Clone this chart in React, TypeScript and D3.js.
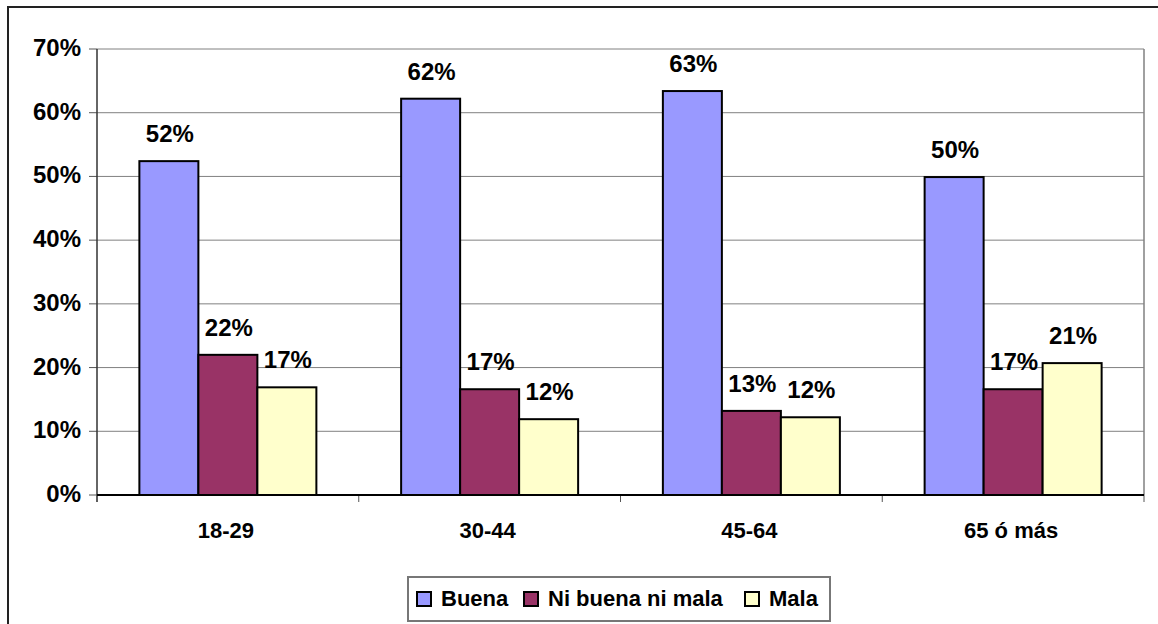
import React from "react";
import * as d3 from "d3";

const categories = ["18-29", "30-44", "45-64", "65 ó más"];
const seriesNames = ["Buena", "Ni buena ni mala", "Mala"];
const buena = [52.4, 62.2, 63.4, 49.9];
const niBuena = [22.0, 16.6, 13.2, 16.6];
const mala = [16.9, 11.9, 12.2, 20.7];
const labelsBuena = ["52%", "62%", "63%", "50%"];
const labelsNi = ["22%", "17%", "13%", "17%"];
const labelsMala = ["17%", "12%", "12%", "21%"];
const yTicks = [0, 10, 20, 30, 40, 50, 60, 70];
const colors = ["#9999FF", "#993366", "#FFFFCC"];

const W = 1158;
const H = 624;
const left = 97;
const right = 1144;
const top = 49;
const bottom = 495;
const font = "'Liberation Sans', Arial, sans-serif";

export default function App() {
  const y = d3.scaleLinear().domain([0, 70]).range([bottom, top]);
  const x0 = d3.scaleBand().domain(categories).range([left, right]).paddingInner(0).paddingOuter(0);
  const groupW = 177;
  const x1 = d3
    .scaleBand()
    .domain(seriesNames)
    .range([(x0.bandwidth() - groupW) / 2, (x0.bandwidth() + groupW) / 2]);
  const data = [buena, niBuena, mala];
  const labels = [labelsBuena, labelsNi, labelsMala];

  const legendItems = [
    { name: "Buena", sx: 417, tx: 441 },
    { name: "Ni buena ni mala", sx: 524, tx: 548 },
    { name: "Mala", sx: 745, tx: 769 },
  ];

  return (
    <svg width={W} height={H} style={{ position: "absolute", left: 0, top: 0 }} fontFamily={font}>
      <rect x={0} y={0} width={W} height={H} fill="#fff" />
      <rect x={8} y={7} width={W + 20} height={H + 20} fill="none" stroke="#222" strokeWidth={2} />
      {/* gridlines */}
      {yTicks.map((t) => (
        <g key={t}>
          {t > 0 && <line x1={left} x2={right} y1={y(t)} y2={y(t)} stroke="#808080" strokeWidth={1} />}
          <line x1={89} x2={left} y1={y(t)} y2={y(t)} stroke="#555" strokeWidth={1} />
          <text x={81} y={y(t) + 7} textAnchor="end" fontSize={24} fontWeight="bold" fill="#000">
            {t}%
          </text>
        </g>
      ))}
      <line x1={right} x2={right} y1={top} y2={bottom} stroke="#808080" strokeWidth={1.5} />
      <line x1={left} x2={left} y1={top} y2={502} stroke="#333" strokeWidth={1.5} />
      {/* category ticks */}
      {categories.map((c) => (
        <line key={c} x1={x0(c)!} x2={x0(c)!} y1={bottom} y2={502} stroke="#555" strokeWidth={1} />
      ))}
      <line x1={right} x2={right} y1={bottom} y2={502} stroke="#555" strokeWidth={1} />
      {/* bars */}
      {data.map((series, si) =>
        series.map((v, ci) => {
          const bx = x0(categories[ci])! + x1(seriesNames[si])!;
          return (
            <rect
              key={`${si}-${ci}`}
              x={bx}
              y={y(v)}
              width={x1.bandwidth()}
              height={bottom - y(v)}
              fill={colors[si]}
              stroke="#000"
              strokeWidth={2}
            />
          );
        })
      )}
      <line x1={left} x2={right} y1={bottom} y2={bottom} stroke="#000" strokeWidth={2} />
      {/* value labels */}
      {data.map((series, si) =>
        series.map((v, ci) => {
          const cx = x0(categories[ci])! + x1(seriesNames[si])! + x1.bandwidth() / 2;
          return (
            <text
              key={`l${si}-${ci}`}
              x={cx + 1}
              y={y(v) - 19}
              textAnchor="middle"
              fontSize={24}
              fontWeight="bold"
              fill="#000"
            >
              {labels[si][ci]}
            </text>
          );
        })
      )}
      {/* category labels */}
      {categories.map((c) => (
        <text
          key={`c${c}`}
          x={x0(c)! + x0.bandwidth() / 2 - 2}
          y={538}
          textAnchor="middle"
          fontSize={22}
          fontWeight="bold"
          fill="#000"
        >
          {c}
        </text>
      ))}
      {/* legend */}
      <rect x={408} y={577} width={422} height={44} fill="#fff" stroke="#777" strokeWidth={2} />
      {legendItems.map((it, i) => (
        <g key={it.name}>
          <rect x={it.sx} y={592} width={14} height={14} fill={colors[i]} stroke="#000" strokeWidth={2} />
          <text x={it.tx} y={606} fontSize={22} fontWeight="bold" fill="#000">
            {it.name}
          </text>
        </g>
      ))}
    </svg>
  );
}
